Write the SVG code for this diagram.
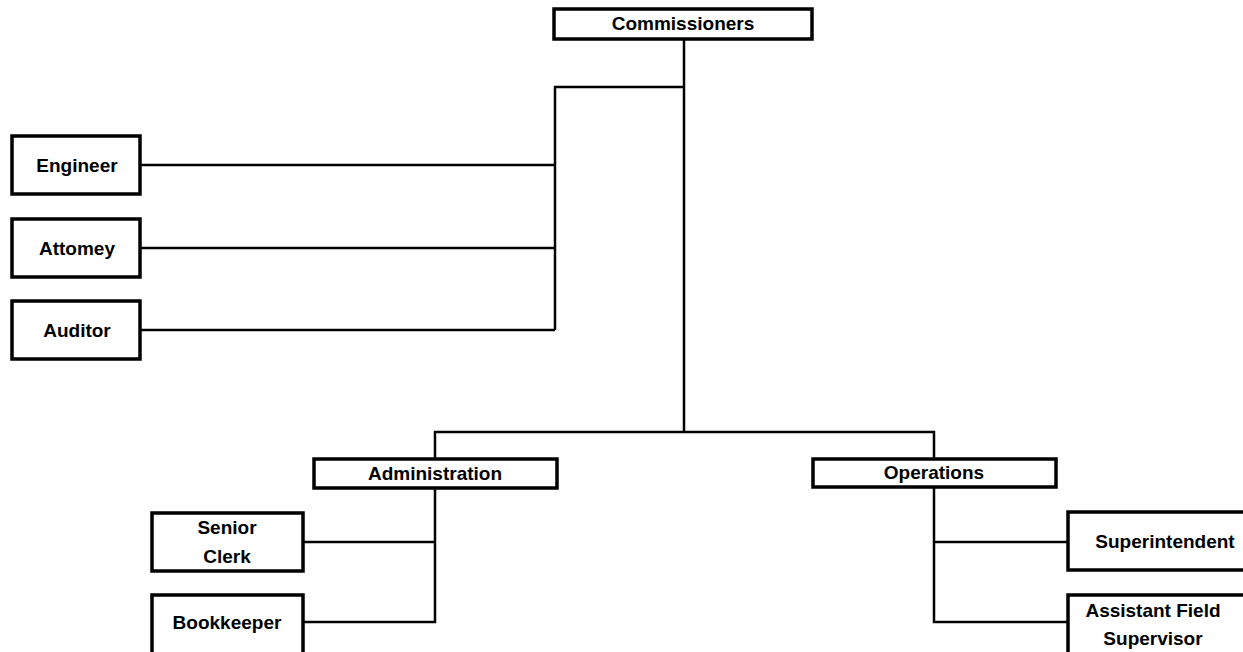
<svg xmlns="http://www.w3.org/2000/svg" width="1243" height="652" viewBox="0 0 1243 652">
<style>
.box{fill:#fff;stroke:#000;stroke-width:3.5}
.lbl{font-family:"Liberation Sans",Arial,sans-serif;font-size:19px;font-weight:bold;fill:#000;text-anchor:middle;dominant-baseline:central}
.con{fill:none;stroke:#000;stroke-width:2.5}
</style>
<rect width="1243" height="652" fill="#fff"/>
<g id="connectors">
<path class="con" d="M684,39 V432"/>
<path class="con" d="M684,87 H555 V330"/>
<path class="con" d="M140,165 H555"/>
<path class="con" d="M140,248 H555"/>
<path class="con" d="M140,330 H555"/>
<path class="con" d="M435,458 V432 H934 V458"/>
<path class="con" d="M435,488 V622 H303"/>
<path class="con" d="M303,542 H435"/>
<path class="con" d="M934,488 V622 H1068"/>
<path class="con" d="M934,542 H1068"/>
</g>
<g id="commissioners"><rect class="box" x="554" y="9" width="258" height="30"/><text class="lbl" x="683" y="23">Commissioners</text></g>
<g id="engineer"><rect class="box" x="12" y="136" width="128" height="58"/><text class="lbl" x="77" y="165">Engineer</text></g>
<g id="attorney"><rect class="box" x="12" y="219" width="128" height="58"/><text class="lbl" x="77" y="248">Attomey</text></g>
<g id="auditor"><rect class="box" x="12" y="301" width="128" height="58"/><text class="lbl" x="77" y="330">Auditor</text></g>
<g id="administration"><rect class="box" x="314" y="459" width="243" height="29"/><text class="lbl" x="435" y="473">Administration</text></g>
<g id="operations"><rect class="box" x="813" y="459" width="243" height="28"/><text class="lbl" x="934" y="472">Operations</text></g>
<g id="senior-clerk"><rect class="box" x="152" y="513" width="151" height="58"/><text class="lbl" x="227" y="527">Senior</text><text class="lbl" x="227" y="556">Clerk</text></g>
<g id="bookkeeper"><rect class="box" x="152" y="595" width="151" height="70"/><text class="lbl" x="227" y="622">Bookkeeper</text></g>
<g id="superintendent"><rect class="box" x="1068" y="512" width="200" height="58"/><text class="lbl" x="1165" y="541">Superintendent</text></g>
<g id="assistant-field-supervisor"><rect class="box" x="1068" y="595" width="200" height="70"/><text class="lbl" x="1153" y="610">Assistant Field</text><text class="lbl" x="1153" y="638">Supervisor</text></g>
</svg>
